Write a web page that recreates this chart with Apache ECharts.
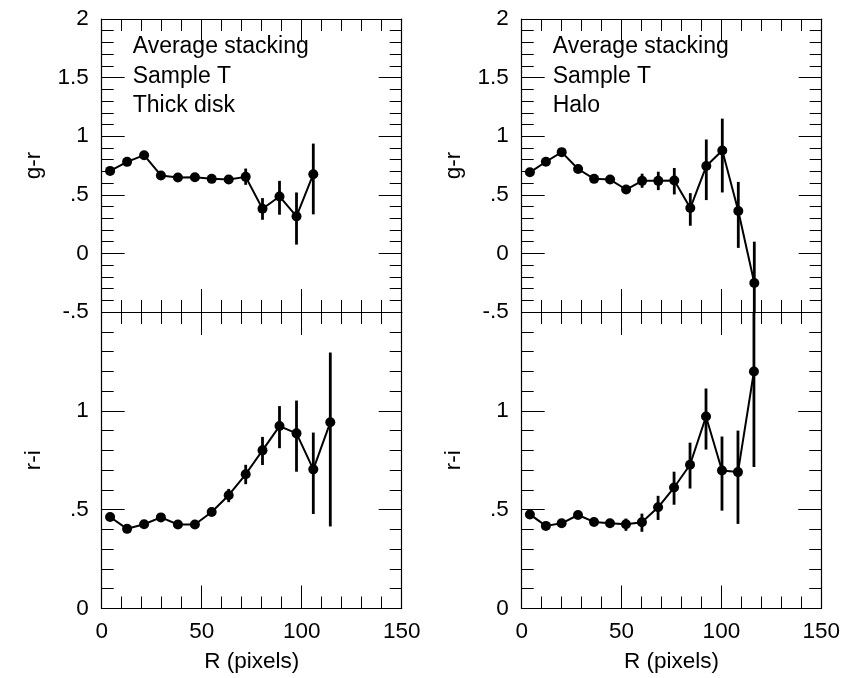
<!DOCTYPE html>
<html>
<head>
<meta charset="utf-8">
<script src="https://cdn.jsdelivr.net/npm/echarts@6/dist/echarts.min.js"></script>
<style>html,body{margin:0;padding:0;background:#fff}#c{width:843px;height:678px}</style>
</head>
<body>
<div id="c"></div>
<script>
// ---- data ----
const radiusThick = [4.2, 12.7, 21.2, 29.6, 38.1, 46.6, 55.0, 63.5, 72.0, 80.4, 88.9, 97.4, 105.8, 114.3];
const radiusHalo = [4.1, 12.1, 20.0, 28.2, 36.2, 44.2, 52.2, 60.2, 68.3, 76.3, 84.3, 92.3, 100.3, 108.3, 116.3];

const grThick     = [0.704, 0.781, 0.838, 0.665, 0.648, 0.650, 0.636, 0.631, 0.653, 0.381, 0.486, 0.316, 0.676];
const grThickLow  = [null, null, null, null, null, null, null, null, 0.585, 0.287, 0.330, 0.075, 0.333];
const grThickHigh = [null, null, null, null, null, null, null, null, 0.724, 0.472, 0.619, 0.520, 0.937];

const riThick     = [0.463, 0.403, 0.426, 0.461, 0.425, 0.425, 0.488, 0.573, 0.679, 0.800, 0.923, 0.886, 0.704, 0.942];
const riThickLow  = [null, null, null, null, null, null, null, 0.538, 0.629, 0.726, 0.811, 0.692, 0.478, 0.415];
const riThickHigh = [null, null, null, null, null, null, null, 0.605, 0.727, 0.868, 1.024, 1.052, 0.890, 1.295];

const grHalo     = [0.692, 0.782, 0.864, 0.720, 0.636, 0.630, 0.545, 0.619, 0.619, 0.622, 0.387, 0.745, 0.878, 0.362, -0.253];
const grHaloLow  = [null, null, null, null, null, null, null, 0.560, 0.540, 0.503, 0.236, 0.455, 0.520, 0.047, -0.606];
const grHaloHigh = [null, null, null, null, null, null, null, 0.680, 0.697, 0.729, 0.514, 0.972, 1.150, 0.610, 0.100];

const riHalo     = [0.476, 0.418, 0.431, 0.473, 0.438, 0.431, 0.426, 0.436, 0.512, 0.612, 0.727, 0.971, 0.698, 0.690, 1.199];
const riHaloLow  = [null, null, null, null, null, null, 0.393, 0.388, 0.448, 0.525, 0.607, 0.804, 0.495, 0.428, 0.716];
const riHaloHigh = [null, null, null, null, null, null, 0.455, 0.480, 0.570, 0.692, 0.839, 1.113, 0.870, 0.900, 1.682];

const xTicks = [0, 50, 100, 150];
const grRange = [-0.5, 2];
const riRange = [0, 1.5];
const panelNotes = ['Average stacking\nSample T\nThick disk', 'Average stacking\nSample T\nHalo'];
const xName = 'R (pixels)';
const yNames = ['g-r', 'r-i'];

// ---- chart ----
const FONT = '"Liberation Sans", Arial, Helvetica, sans-serif';
const FS = 22.5;
const FS_NOTE = 23;
const grids = [
  {left: 101.7, top: 19, width: 300, height: 293},
  {left: 101.7, top: 312, width: 300, height: 296.5},
  {left: 521.7, top: 19, width: 300, height: 293},
  {left: 521.7, top: 312, width: 300, height: 296.5}
];
function fmt(v) {
  if (v === 0) return '0';
  return String(v).replace('0.', '.');
}
const axisLine = {show: true, onZero: false, lineStyle: {color: '#000', width: 1.2}};
const xAxes = [], yAxes = [];
grids.forEach((g, i) => {
  const isBottom = (i % 2 === 1);
  const baseX = {
    type: 'value', gridIndex: i, min: xTicks[0], max: xTicks[xTicks.length - 1], interval: 50,
    axisLine: axisLine, splitLine: {show: false},
    axisTick: {show: true, inside: true, length: 23, lineStyle: {color: '#000', width: 1}},
    minorTick: {show: true, splitNumber: 5, length: 12, lineStyle: {color: '#000', width: 1}}
  };
  xAxes.push(Object.assign({}, baseX, {
    position: 'bottom',
    axisLabel: {show: isBottom, color: '#000', fontSize: FS, fontFamily: FONT, margin: 12},
    name: isBottom ? xName : '', nameLocation: 'middle', nameGap: 42,
    nameTextStyle: {color: '#000', fontSize: FS, fontFamily: FONT}
  }));
  xAxes.push(Object.assign({}, baseX, {position: 'top', axisLabel: {show: false}}));
  const range = isBottom ? riRange : grRange;
  const baseY = {
    type: 'value', gridIndex: i, min: range[0], max: range[1], interval: 0.5,
    axisLine: axisLine, splitLine: {show: false},
    axisTick: {show: true, inside: true, length: 23, lineStyle: {color: '#000', width: 1}},
    minorTick: {show: true, splitNumber: 5, length: 12, lineStyle: {color: '#000', width: 1}}
  };
  yAxes.push(Object.assign({}, baseY, {
    position: 'left',
    axisLabel: {show: true, color: '#000', fontSize: FS, fontFamily: FONT, margin: 13,
      formatter: v => (isBottom && v === 1.5) ? '' : fmt(v)},
    name: isBottom ? yNames[1] : yNames[0], nameLocation: 'middle', nameGap: 56, nameRotate: 90,
    nameTextStyle: {color: '#000', fontSize: FS, fontFamily: FONT}
  }));
  yAxes.push(Object.assign({}, baseY, {position: 'right', axisLabel: {show: false}}));
});

function errRender(params, api) {
  const cs = params.coordSys;
  const x = api.value(0), lo = api.value(1), hi = api.value(2);
  const p1 = api.coord([x, lo]), p2 = api.coord([x, hi]);
  const clampY = y => Math.max(cs.y, Math.min(cs.y + cs.height, y));
  return {type: 'line', shape: {x1: p1[0], y1: clampY(p1[1]), x2: p2[0], y2: clampY(p2[1])},
    style: {stroke: '#000', lineWidth: 2.8}};
}

const panels = [
  {grid: 0, xs: radiusThick, ys: grThick, lo: grThickLow, hi: grThickHigh},
  {grid: 1, xs: radiusThick, ys: riThick, lo: riThickLow, hi: riThickHigh},
  {grid: 2, xs: radiusHalo, ys: grHalo, lo: grHaloLow, hi: grHaloHigh},
  {grid: 3, xs: radiusHalo, ys: riHalo, lo: riHaloLow, hi: riHaloHigh}
];
const series = [];
panels.forEach(p => {
  const n = p.ys.length;
  series.push({
    type: 'custom', xAxisIndex: 2 * p.grid, yAxisIndex: 2 * p.grid,
    renderItem: errRender, encode: {x: 0, y: [1, 2]}, silent: true, z: 3,
    data: p.xs.slice(0, n).map((x, i) => [x, p.lo[i], p.hi[i]]).filter(d => d[1] !== null)
  });
  series.push({
    type: 'line', xAxisIndex: 2 * p.grid, yAxisIndex: 2 * p.grid,
    data: p.xs.slice(0, n).map((x, i) => [x, p.ys[i]]),
    symbol: 'circle', symbolSize: 10, showSymbol: true, silent: true, z: 4,
    itemStyle: {color: '#000'}, lineStyle: {color: '#000', width: 2}
  });
});

const chart = echarts.init(document.getElementById('c'), null, {renderer: 'canvas'});
chart.setOption({
  animation: false,
  backgroundColor: '#fff',
  title: panelNotes.map((t, i) => ({
    text: t, left: grids[i * 2].left + 31, top: 32, padding: 0,
    textStyle: {color: '#000', fontSize: FS_NOTE, fontWeight: 'normal', fontFamily: FONT, lineHeight: 29.5}
  })),
  grid: grids,
  xAxis: xAxes,
  yAxis: yAxes,
  series: series
});
</script>
</body>
</html>
